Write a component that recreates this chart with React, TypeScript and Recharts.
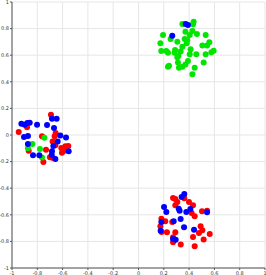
import React from 'react';
import { ScatterChart, Scatter, XAxis, YAxis, CartesianGrid } from 'recharts';

type Pt = [number, number];

const xTicks = [-1, -0.8, -0.6, -0.4, -0.2, 0, 0.2, 0.4, 0.6, 0.8, 1];
const yTicks = [-1, -0.8, -0.6, -0.4, -0.2, 0, 0.2, 0.4, 0.6, 0.8, 1];

// red: left cluster + lower right cluster
const redPoints: Pt[] = [
  [-0.692, 0.153], [-0.881, 0.058], [-0.947, 0.023], [-0.763, -0.01], [-0.655, 0.015],
  [-0.663, -0.01], [-0.679, -0.048], [-0.657, -0.078], [-0.731, -0.11], [-0.61, -0.098],
  [-0.578, -0.085], [-0.555, -0.082], [-0.605, -0.133], [-0.584, -0.118], [-0.868, -0.118],
  [-0.7, -0.168], [-0.676, -0.173], [-0.752, -0.203],
  [0.273, -0.474], [0.291, -0.481], [0.362, -0.476], [0.307, -0.504], [0.291, -0.529],
  [0.399, -0.504], [0.431, -0.529], [0.42, -0.586], [0.444, -0.611], [0.502, -0.574],
  [0.542, -0.569], [0.181, -0.629], [0.212, -0.649], [0.267, -0.654], [0.173, -0.687],
  [0.183, -0.729], [0.225, -0.732], [0.491, -0.687], [0.505, -0.717], [0.478, -0.737],
  [0.563, -0.744], [0.515, -0.785], [0.291, -0.732], [0.273, -0.769], [0.273, -0.807],
  [0.334, -0.824], [0.431, -0.767], [0.444, -0.837],
];

// green: upper right cluster + a few on the left
const greenPoints: Pt[] = [
  [0.347, 0.835], [0.436, 0.852], [0.431, 0.832], [0.371, 0.777], [0.426, 0.782],
  [0.405, 0.752], [0.462, 0.759], [0.531, 0.752], [0.194, 0.752], [0.254, 0.722],
  [0.307, 0.702], [0.365, 0.722], [0.386, 0.714], [0.173, 0.689], [0.381, 0.689],
  [0.56, 0.697], [0.505, 0.672], [0.542, 0.672], [0.347, 0.664], [0.412, 0.644],
  [0.18, 0.632], [0.22, 0.632], [0.233, 0.619], [0.286, 0.619], [0.289, 0.639],
  [0.333, 0.627], [0.457, 0.607], [0.405, 0.607], [0.531, 0.607], [0.576, 0.622],
  [0.594, 0.634], [0.307, 0.584], [0.315, 0.594], [0.241, 0.521], [0.233, 0.514],
  [0.312, 0.546], [0.391, 0.556], [0.371, 0.531], [0.347, 0.514], [0.32, 0.506],
  [0.444, 0.506], [0.515, 0.546], [0.426, 0.456],
  [-0.744, -0.02], [-0.839, -0.068], [-0.874, -0.1], [-0.779, -0.105], [-0.763, -0.17],
];

const bluePoints: Pt[] = [
  [0.373, 0.835], [0.391, 0.827], [0.267, 0.747],
  [-0.684, 0.123], [-0.647, 0.123], [-0.926, 0.085], [-0.9, 0.078], [-0.879, 0.09],
  [-0.86, 0.093], [-0.802, 0.078], [-0.723, 0.075], [-0.668, 0.053], [-0.905, -0.015],
  [-0.874, -0.008], [-0.618, -0.003], [-0.573, -0.018], [-0.639, -0.048], [-0.874, -0.068],
  [-0.673, -0.083], [-0.684, -0.123], [-0.552, -0.123], [-0.834, -0.153], [-0.784, -0.153],
  [-0.686, -0.15], [-0.657, -0.18],
  [0.362, -0.444], [0.341, -0.466], [0.202, -0.541], [0.22, -0.579], [0.318, -0.554],
  [0.325, -0.569], [0.378, -0.579], [0.41, -0.556], [0.542, -0.581], [0.181, -0.654],
  [0.278, -0.649], [0.333, -0.632], [0.175, -0.719], [0.36, -0.694], [0.439, -0.712],
  [0.273, -0.782], [0.294, -0.787],
];

const toRows = (pts: Pt[]) => pts.map(([x, y]) => ({ x, y }));

const dot = (color: string) => (props: any) => (
  <circle cx={props.cx} cy={props.cy} r={3} fill={color} />
);

const tickStyle = { fontSize: 5, fill: '#333', fontFamily: 'DejaVu Sans' };

export default function App() {
  return (
    <div style={{ position: 'absolute', left: 0, top: 0 }}>
      <ScatterChart width={266} height={275} margin={{ top: 2, right: 1, bottom: 0, left: 0 }}>
        <CartesianGrid stroke="#e6e6e6" strokeWidth={1} />
        <XAxis
          type="number"
          dataKey="x"
          domain={[-1, 1]}
          ticks={xTicks}
          height={7}
          tick={tickStyle}
          tickSize={2}
          tickMargin={1}
          stroke="#555"
          interval={0}
        />
        <YAxis
          type="number"
          dataKey="y"
          domain={[-1, 1]}
          ticks={yTicks}
          width={12}
          tick={tickStyle}
          tickSize={2}
          tickMargin={1}
          stroke="#555"
          interval={0}
        />
        <Scatter data={toRows(redPoints)} fill="#ff0000" shape={dot('#ff0000')} isAnimationActive={false} />
        <Scatter data={toRows(greenPoints)} fill="#00e600" shape={dot('#00e600')} isAnimationActive={false} />
        <Scatter data={toRows(bluePoints)} fill="#0000ff" shape={dot('#0000ff')} isAnimationActive={false} />
      </ScatterChart>
    </div>
  );
}
